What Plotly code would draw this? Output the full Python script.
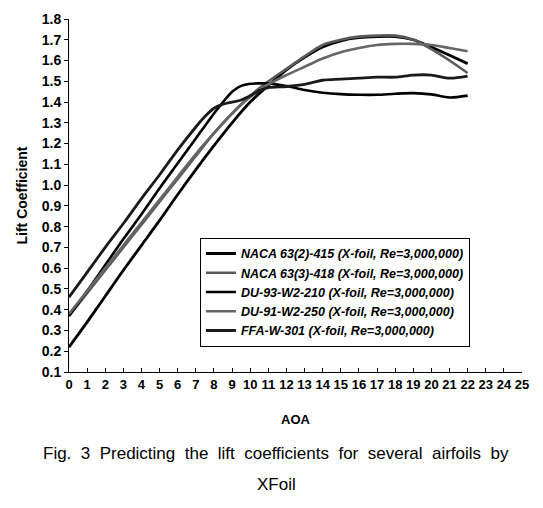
import plotly.graph_objects as go

# AOA (deg) sample points
aoa_fine = [0, 1, 2, 3, 4, 5, 6, 7, 7.5, 8, 8.5, 9, 9.5, 10, 10.5, 11,
            12, 13, 14, 15, 16, 17, 18, 19, 20, 21, 22]
aoa = list(range(0, 23))

# Lift coefficients
naca_632_415 = [0.22, 0.34, 0.465, 0.59, 0.71, 0.83, 0.955, 1.075, 1.19, 1.30, 1.40,
                1.48, 1.555, 1.615, 1.665, 1.695, 1.71, 1.715, 1.715, 1.70, 1.665, 1.625, 1.585]
naca_633_418 = [0.37, 0.48, 0.59, 0.70, 0.81, 0.92, 1.03, 1.14, 1.25, 1.345, 1.43,
                1.50, 1.56, 1.62, 1.675, 1.70, 1.715, 1.72, 1.72, 1.70, 1.655, 1.60, 1.54]
du_93_w2_210 = [0.37, 0.49, 0.615, 0.74, 0.86, 0.985, 1.105, 1.225, 1.285, 1.345, 1.40,
                1.45, 1.478, 1.488, 1.49, 1.49, 1.477, 1.458, 1.445, 1.438, 1.435,
                1.435, 1.44, 1.443, 1.437, 1.422, 1.431]
du_91_w2_250 = [0.38, 0.49, 0.60, 0.71, 0.82, 0.93, 1.04, 1.15, 1.25, 1.345, 1.425,
                1.485, 1.53, 1.57, 1.61, 1.64, 1.66, 1.675, 1.68, 1.68, 1.675, 1.66, 1.645]
ffa_w_301 = [0.46, 0.58, 0.70, 0.815, 0.935, 1.05, 1.17, 1.28, 1.33, 1.37, 1.39,
             1.40, 1.41, 1.43, 1.455, 1.47, 1.475, 1.485, 1.505, 1.51, 1.515,
             1.52, 1.52, 1.53, 1.53, 1.515, 1.525]

names = ["NACA 63(2)-415 (X-foil, Re=3,000,000)",
         "NACA 63(3)-418 (X-foil, Re=3,000,000)",
         "DU-93-W2-210 (X-foil, Re=3,000,000)",
         "DU-91-W2-250 (X-foil, Re=3,000,000)",
         "FFA-W-301 (X-foil, Re=3,000,000)"]

series = [
    (aoa, naca_632_415, "#000000", 2.8),
    (aoa, naca_633_418, "#5a5a5a", 2.6),
    (aoa_fine, du_93_w2_210, "#000000", 2.6),
    (aoa, du_91_w2_250, "#666666", 2.6),
    (aoa_fine, ffa_w_301, "#1a1a1a", 2.8),
]

fig = go.Figure()
for name, (xs, ys, col, w) in zip(names, series):
    fig.add_trace(go.Scatter(x=xs, y=ys, mode="lines", name=name,
                             line=dict(color=col, width=w, shape="spline", smoothing=0.8)))

NB = "\u00a0"
caption = (NB * 2).join("Fig. 3 Predicting the lift coefficients for several airfoils by".split(" "))

fig.update_layout(
    width=543, height=508,
    margin=dict(l=69, r=21, t=11, b=136),
    paper_bgcolor="white", plot_bgcolor="white",
    font=dict(family="Liberation Sans, Arial, sans-serif", color="black"),
    showlegend=True,
    legend=dict(x=0.289, y=0.38, xanchor="left", yanchor="top",
                bordercolor="black", borderwidth=1, bgcolor="white",
                font=dict(size=12.5, family="Liberation Sans", style="italic", weight="bold"),
                tracegroupgap=0, itemwidth=30),
    xaxis=dict(range=[0, 25], dtick=1, tick0=0, showgrid=False, zeroline=False,
               showline=True, linecolor="black", linewidth=1,
               ticks="inside", ticklen=4, tickcolor="black",
               tickfont=dict(size=13, weight="bold"),
               title=dict(text="AOA", font=dict(size=13, weight="bold"), standoff=24)),
    yaxis=dict(range=[0.1, 1.8], dtick=0.1, tick0=0.1, tickformat=".1f",
               showgrid=False, zeroline=False,
               showline=True, linecolor="black", linewidth=1,
               ticks="outside", ticklen=4, tickcolor="black",
               tickfont=dict(size=14, weight="bold"),
               title=dict(text="Lift Coefficient", font=dict(size=14, weight="bold"), standoff=10)),
)

fig.add_annotation(text=caption,
                   xref="paper", yref="paper", x=0.457, y=-0.23, xanchor="center", yanchor="middle",
                   showarrow=False, font=dict(size=17, family="Liberation Sans"))
fig.add_annotation(text="XFoil", xref="paper", yref="paper", x=0.457, y=-0.318,
                   xanchor="center", yanchor="middle", showarrow=False,
                   font=dict(size=17, family="Liberation Sans"))

fig.write_html("out.html")
